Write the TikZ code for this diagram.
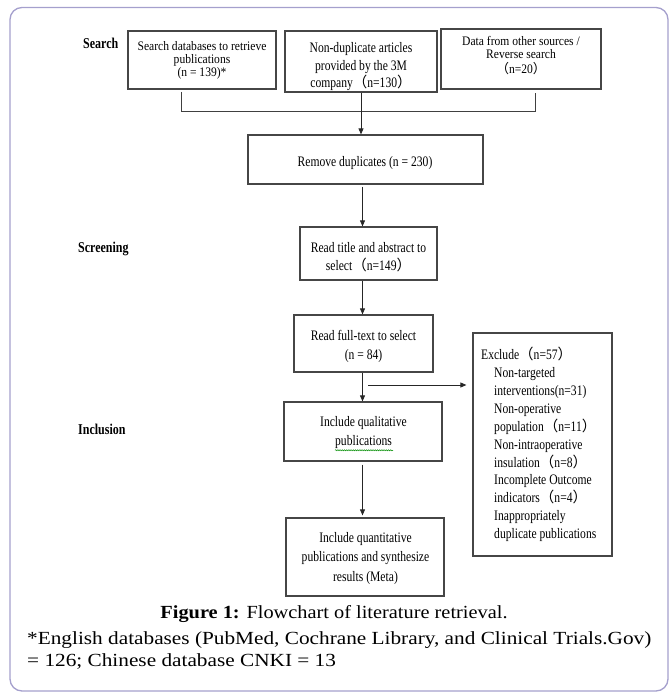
\documentclass[tikz,border=0pt]{standalone}
\usepackage{fontspec}
\setmainfont{Liberation Serif}
\newfontfamily\bxfont[FakeStretch=0.8]{Liberation Serif}
\newfontfamily\bxsfont[FakeStretch=0.89]{Liberation Serif}
\newfontfamily\capfont[FakeStretch=1.1]{Liberation Serif}
\newfontfamily\fnfont[FakeStretch=1.15]{Liberation Serif}
\newfontfamily\cjkfont{Noto Sans CJK SC}
\newcommand{\lpar}{{\cjkfont （}}
\newcommand{\rpar}{{\cjkfont ）}}
\usetikzlibrary{arrows.meta,decorations.pathmorphing}
\definecolor{framec}{RGB}{165,160,205}
\definecolor{boxc}{RGB}{70,70,70}
\begin{document}
\begin{tikzpicture}[x=1pt,y=-1pt,
  box/.style={draw=boxc, line width=1.2pt, inner sep=0pt},
  btxt/.style={align=center, inner sep=0pt, font=\bxfont\fontsize{14.5}{#1}\selectfont},
  btxt/.default=18,
  stxt/.style={align=center, inner sep=0pt, font=\bxsfont\fontsize{13}{12.6}\selectfont},
  arr/.style={draw=black!85, line width=0.8pt, -{Triangle[length=6pt,width=5pt]}},
  conn/.style={draw=black!75, line width=0.9pt},
  lbl/.style={anchor=west, inner sep=0pt, font=\bxfont\bfseries\fontsize{15}{15}\selectfont}]
\useasboundingbox (0,0) rectangle (670,695);
\draw[framec, line width=1.3pt, rounded corners=12pt] (10,7.5) rectangle (668,691);

% stage labels
\node[lbl] (lsearch) at (83,43) {Search};
\node[lbl] (lscreen) at (78,249) {Screening};
\node[lbl] (lincl) at (78,429) {Inclusion};

% boxes
\node[box, minimum width=148pt, minimum height=58pt] (b1) at (202,60) {};
\node[box, minimum width=152pt, minimum height=61pt] (b2) at (361,61.5) {};
\node[box, minimum width=160pt, minimum height=60pt] (b3) at (521,59) {};
\node[box, minimum width=235pt, minimum height=49pt] (rm) at (365.5,159.5) {};
\node[box, minimum width=137pt, minimum height=53pt] (rt) at (368.5,253.5) {};
\node[box, minimum width=139pt, minimum height=57pt] (rf) at (363.5,343.5) {};
\node[box, minimum width=158pt, minimum height=59pt] (iq) at (363,431.5) {};
\node[box, minimum width=158pt, minimum height=78pt] (qn) at (365,557) {};
\node[box, minimum width=139pt, minimum height=223pt] (ex) at (542.5,444.5) {};

% box texts
\node[stxt] (b1t) at (202,60.3) {Search databases to retrieve\\publications\\(n = 139)*};
\begin{scope}
\clip ([xshift=0.6pt,yshift=-0.6pt]b2.north west) rectangle ([xshift=-0.6pt,yshift=0.7pt]b2.south east);
\node[btxt=17.5] (b2t) at (361,67) {Non-duplicate articles\\provided by the 3M\\company\lpar n=130\rpar};
\end{scope}
\node[stxt] (b3t) at (521,55.5) {Data from other sources /\\Reverse search\\[2.5pt]\lpar n=20\rpar};
\node[btxt] (rmt) at (365,163) {Remove duplicates (n = 230)};
\node[btxt=18] (rtt) at (368.5,257) {Read title and abstract to\\select\lpar n=149\rpar};
\node[btxt=19] (rft) at (363.5,346.5) {Read full-text to select\\(n = 84)};
\node[btxt=19] (iqt) at (363.5,432.5) {Include qualitative\\publications};
\node[btxt=19.5] (qnt) at (365.5,558.5) {Include quantitative\\publications and synthesize\\results (Meta)};
\node[anchor=west, align=left, inner sep=0pt, font=\bxfont\fontsize{14.5}{17.9}\selectfont] (ext) at (481,444.5)
 {Exclude\lpar n=57\rpar\\
  \hspace*{13pt}Non-targeted\\
  \hspace*{13pt}interventions(n=31)\\
  \hspace*{13pt}Non-operative\\
  \hspace*{13pt}population\lpar n=11\rpar\\
  \hspace*{13pt}Non-intraoperative\\
  \hspace*{13pt}insulation\lpar n=8\rpar\\
  \hspace*{13pt}Incomplete Outcome\\
  \hspace*{13pt}indicators\lpar n=4\rpar\\
  \hspace*{13pt}Inappropriately\\
  \hspace*{13pt}duplicate publications};

% spell-check squiggle
\draw[green!55!black, line width=0.5pt, decorate, decoration={snake, amplitude=0.6pt, segment length=2.2pt}]
  (iqt.south west -| 335,0) ++(0,1.5) coordinate (sq1) -- (sq1 -| 393,0);

% bracket joining the three sources
\coordinate (bl1) at (181,92);
\coordinate (bl2) at (181,111.5);
\coordinate (br2) at (535,111.5);
\coordinate (br1) at (535,93);
\draw[conn] (bl1) -- (bl2) -- (br2) -- (br1);

% main flow
\coordinate (ax) at (362.5,0);
\draw[arr] (b2.south) -- (b2.south |- rm.north);
\draw[arr] ([yshift=-2pt]rm.south -| ax) -- (rt.north -| ax);
\draw[arr] (rt.south -| ax) -- (rf.north -| ax);
\draw[arr] (rf.south -| ax) -- (iq.north -| ax);
\draw[arr] ([yshift=-3pt]iq.south -| ax) -- ([yshift=2pt]qn.north -| ax);
\coordinate (sx) at (368,385);
\draw[arr] (sx) -- ([xshift=-6pt]ex.west |- sx);

% caption and footnote
\node[inner sep=0pt, font=\capfont\fontsize{18.5}{20}\selectfont] (cap) at (334,614)
  {\textbf{Figure 1:} Flowchart of literature retrieval.};
\node[anchor=west, align=left, inner sep=0pt, font=\fnfont\fontsize{18.5}{22}\selectfont] (fn) at (27,650)
  {*English databases (PubMed, Cochrane Library, and Clinical Trials.Gov)\\= 126; Chinese database CNKI = 13};
\end{tikzpicture}
\end{document}
